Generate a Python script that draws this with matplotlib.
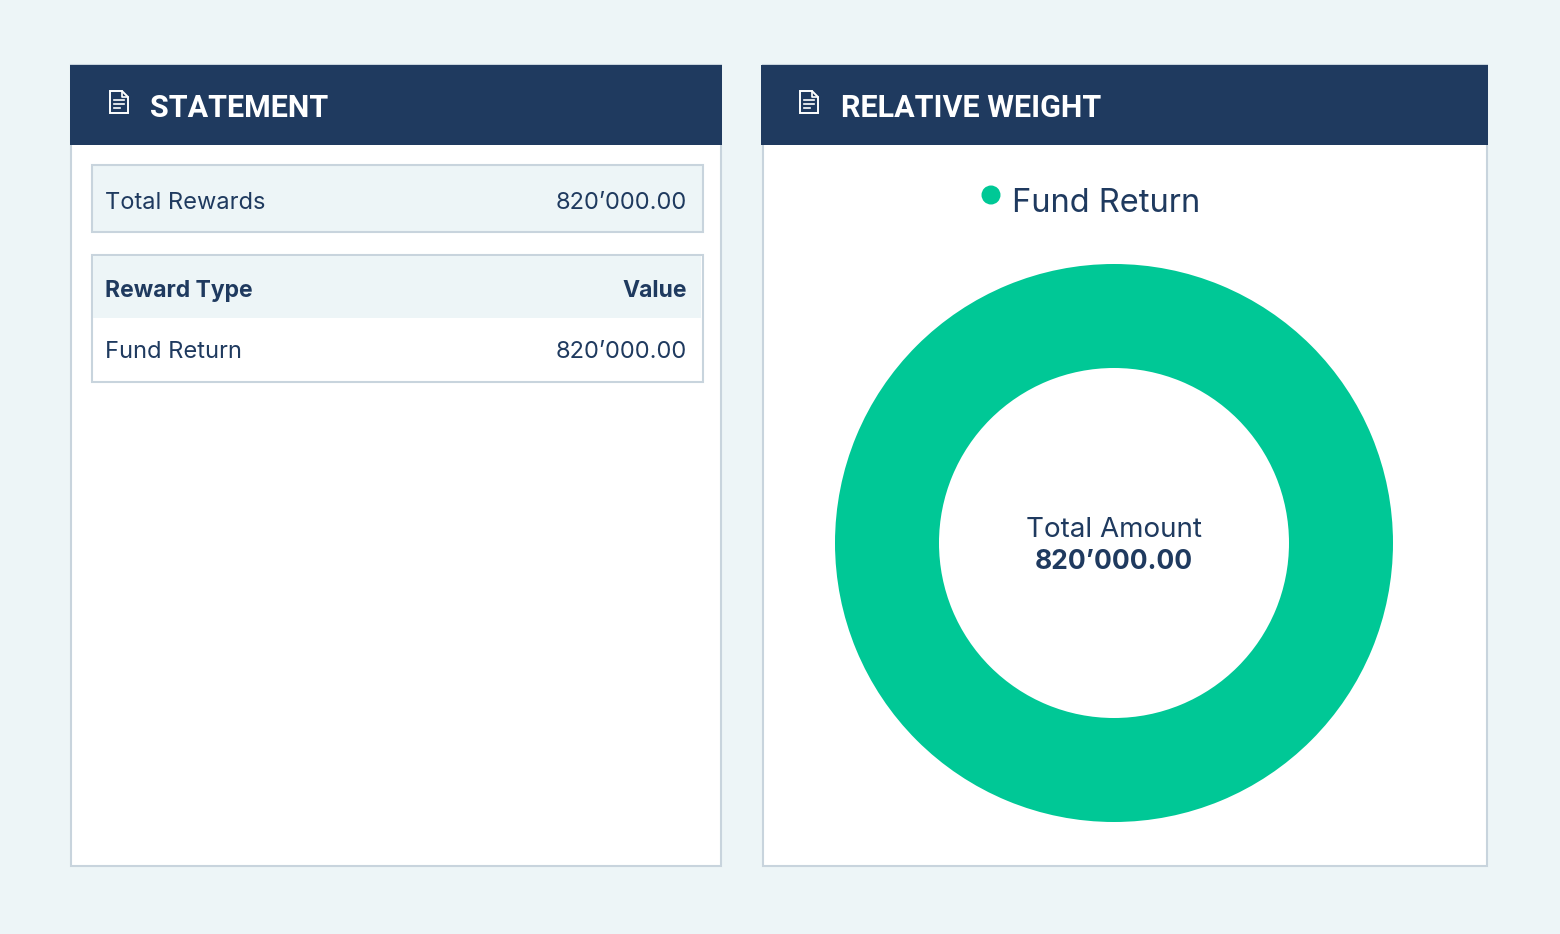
import matplotlib
matplotlib.use("Agg")
import matplotlib.pyplot as plt
from matplotlib.patches import Rectangle, Polygon, Circle
from matplotlib.lines import Line2D

# ---- data ----
panel_titles = ["STATEMENT", "RELATIVE WEIGHT"]
total_label = "Total Rewards"
total_value = "820’000.00"
table_headers = ["Reward Type", "Value"]
reward_types = ["Fund Return"]
reward_values = [820000.00]
reward_value_labels = ["820’000.00"]
center_label = "Total Amount"
center_value = "820’000.00"

# ---- styles ----
BG = "#EDF5F7"
NAVY = "#1F3A5F"
BORDER = "#C8D4DD"
LIGHT = "#EDF5F7"
GREEN = "#00C896"
FONT = "Inter"
TFONT = "Roboto"

W, H = 1560, 934
fig = plt.figure(figsize=(W / 100, H / 100), dpi=100)
fig.patch.set_facecolor(BG)
ax = fig.add_axes([0, 0, 1, 1])
ax.set_xlim(0, W)
ax.set_ylim(H, 0)
ax.axis("off")


def rect(x0, y0, x1, y1, fc, ec="none", lw=0, z=1):
    ax.add_patch(Rectangle((x0, y0), x1 - x0, y1 - y0, facecolor=fc,
                           edgecolor=ec, linewidth=lw, zorder=z))


def doc_icon(x, y):
    # x,y = top-left; size ~19x23 px
    w, h, f = 18, 22, 6
    pts = [(x, y), (x + w - f, y), (x + w, y + f), (x + w, y + h), (x, y + h)]
    ax.add_patch(Polygon(pts, closed=True, facecolor="none", edgecolor="white",
                         linewidth=1.4, zorder=5))
    ax.add_line(Line2D([x + w - f, x + w - f, x + w], [y, y + f, y + f],
                       color="white", linewidth=1.2, zorder=5))
    for i, ly in enumerate([y + 9, y + 13, y + 17]):
        lx1 = x + w - 4 if i < 2 else x + w - 8
        ax.add_line(Line2D([x + 4, lx1], [ly, ly], color="white",
                           linewidth=1.2, zorder=5))


# ---- left panel ----
rect(71, 65, 721, 866, "white", BORDER, 1.5, z=1)
rect(70, 65, 722, 145, NAVY, z=2)
doc_icon(110, 91)
ax.text(150, 108, panel_titles[0], color="white", fontsize=22, fontweight="bold",
        family=TFONT, va="center", ha="left", zorder=5)

# total rewards box
rect(91.5, 164.5, 702.5, 232, LIGHT, BORDER, 1.5, z=3)
ax.text(105, 203, total_label, color=NAVY, fontsize=17, family=FONT,
        va="center", ha="left", zorder=5)
ax.text(687, 203, total_value, color=NAVY, fontsize=17, family=FONT,
        va="center", ha="right", zorder=5)

# table
rect(91.5, 254.5, 702.5, 382, "white", BORDER, 1.5, z=3)
rect(93, 256, 701, 318, LIGHT, z=4)
ax.text(105, 291, table_headers[0], color=NAVY, fontsize=16.5, family=FONT,
        fontweight="bold", va="center", ha="left", zorder=5)
ax.text(687, 291, table_headers[1], color=NAVY, fontsize=16.5, family=FONT,
        fontweight="bold", va="center", ha="right", zorder=5)
for i, (t, v) in enumerate(zip(reward_types, reward_value_labels)):
    yy = 352 + i * 62
    ax.text(105, yy, t, color=NAVY, fontsize=17, family=FONT,
            va="center", ha="left", zorder=5)
    ax.text(687, yy, v, color=NAVY, fontsize=17, family=FONT,
            va="center", ha="right", zorder=5)

# ---- right panel ----
rect(763, 65, 1487, 866, "white", BORDER, 1.5, z=1)
rect(761, 65, 1488, 145, NAVY, z=2)
doc_icon(800, 91)
ax.text(841, 108, panel_titles[1], color="white", fontsize=22, fontweight="bold",
        family=TFONT, va="center", ha="left", zorder=5)

# legend
ax.add_patch(Circle((991, 195), 9.5, facecolor=GREEN, edgecolor="none", zorder=5))
ax.text(1012, 203, reward_types[0], color=NAVY, fontsize=23.5, family=FONT,
        va="center", ha="left", zorder=5)

# donut
cx, cy, R, r = 1114, 543, 279, 175
pax = fig.add_axes([(cx - R) / W, (H - cy - R) / H, 2 * R / W, 2 * R / H])
pax.pie(reward_values, colors=[GREEN], radius=1, startangle=90,
        wedgeprops=dict(width=1 - r / R, edgecolor="none"))
pax.set_xlim(-1, 1)
pax.set_ylim(-1, 1)
pax.set_aspect("auto")
pax.axis("off")
pax.patch.set_alpha(0)

ax.text(cx, 530, center_label, color=NAVY, fontsize=20, family=FONT,
        va="center", ha="center", zorder=5)
ax.text(cx, 562, center_value, color=NAVY, fontsize=19, family=FONT,
        fontweight="bold", va="center", ha="center", zorder=5)

fig.savefig("out.png", dpi=100, facecolor=BG)
